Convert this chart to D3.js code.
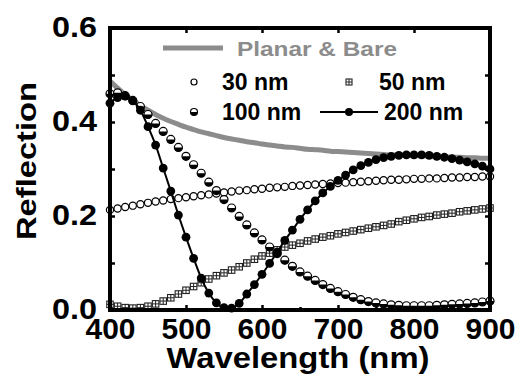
<!DOCTYPE html>
<html>
<head>
<meta charset="utf-8">
<script src="https://cdn.jsdelivr.net/npm/d3@7"></script>
<style>
  body { margin: 0; background: #fff; }
  text { font-family: "Liberation Sans", Arial, sans-serif; font-weight: bold; }
</style>
</head>
<body>
<svg id="chart" width="526" height="387"></svg>
<script>
// wavelength grid (nm)
const wavelength = [400,410,420,430,440,450,460,470,480,490,500,510,520,530,540,550,560,570,580,590,600,
  610,620,630,640,650,660,670,680,690,700,710,720,730,740,750,760,770,780,790,800,
  810,820,830,840,850,860,870,880,890,900];

const planarBare = [0.487,0.472,0.458,0.446,0.435,0.425,0.416,0.408,0.401,0.395,0.389,0.384,0.379,0.375,0.371,0.367,0.364,0.361,0.358,0.356,0.353,
  0.351,0.349,0.347,0.346,0.344,0.342,0.341,0.340,0.338,0.337,0.336,0.335,0.334,0.333,0.332,0.331,0.330,0.330,0.329,0.328,
  0.328,0.327,0.326,0.326,0.325,0.325,0.324,0.324,0.323,0.323];

const nm30 = [0.213,0.216,0.219,0.222,0.225,0.228,0.231,0.233,0.236,0.238,0.240,0.242,0.244,0.246,0.248,0.250,0.252,0.254,0.255,0.257,0.258,
  0.260,0.261,0.262,0.264,0.265,0.266,0.267,0.268,0.269,0.270,0.271,0.272,0.273,0.274,0.275,0.276,0.277,0.277,0.278,0.279,
  0.279,0.280,0.280,0.281,0.282,0.282,0.283,0.283,0.284,0.284];

const nm50 = [0.012,0.008,0.005,0.004,0.005,0.008,0.013,0.019,0.026,0.034,0.042,0.050,0.058,0.066,0.073,0.079,0.085,0.092,0.100,0.108,0.115,
  0.121,0.128,0.134,0.138,0.142,0.147,0.151,0.155,0.158,0.162,0.165,0.168,0.171,0.174,0.177,0.180,0.183,0.188,0.191,0.194,
  0.197,0.199,0.202,0.204,0.206,0.209,0.211,0.213,0.215,0.217];

const nm100 = [0.460,0.462,0.456,0.446,0.433,0.416,0.397,0.380,0.363,0.346,0.327,0.309,0.291,0.272,0.254,0.235,0.217,0.199,0.181,0.164,0.149,
  0.134,0.120,0.106,0.093,0.081,0.072,0.063,0.054,0.046,0.039,0.033,0.027,0.022,0.018,0.015,0.013,0.011,0.010,0.009,0.009,
  0.009,0.009,0.010,0.011,0.012,0.013,0.014,0.015,0.017,0.019];

const nm200 = [0.440,0.452,0.455,0.445,0.425,0.390,0.351,0.302,0.253,0.202,0.155,0.110,0.068,0.036,0.015,0.005,0.004,0.014,0.034,0.054,0.076,
  0.099,0.123,0.148,0.170,0.193,0.213,0.232,0.249,0.263,0.276,0.287,0.298,0.307,0.314,0.320,0.324,0.327,0.329,0.330,0.330,
  0.330,0.329,0.327,0.325,0.322,0.319,0.315,0.311,0.306,0.300];

const xTicks = [400, 500, 600, 700, 800, 900];
const xMinor = [450, 550, 650, 750, 850];
const yTicks = [0, 0.1, 0.2, 0.3, 0.4, 0.5, 0.6];
const yLabels = [0, 0.2, 0.4, 0.6];

const svg = d3.select("#chart");
const plotLeft = 110, plotRight = 490, plotTop = 28, plotBottom = 310;

const x = d3.scaleLinear().domain([400, 900]).range([plotLeft, plotRight]);
const y = d3.scaleLinear().domain([0, 0.6]).range([plotBottom, plotTop]);

// axes (ticks point inward)
const gx = svg.append("g")
  .attr("transform", "translate(0," + plotBottom + ")")
  .call(d3.axisBottom(x).tickValues(xTicks).tickSizeInner(-5).tickSizeOuter(0).tickPadding(8).tickFormat(d3.format("d")));
gx.selectAll(".tick text").attr("font-size", 29).attr("textLength", 50).attr("lengthAdjust", "spacingAndGlyphs");

svg.append("g")
  .attr("transform", "translate(0," + plotBottom + ")")
  .call(d3.axisBottom(x).tickValues(xMinor).tickSizeInner(-3).tickSizeOuter(0).tickFormat(""));

svg.append("g")
  .attr("transform", "translate(0," + plotTop + ")")
  .call(d3.axisTop(x).tickValues(xTicks).tickSizeInner(-5).tickSizeOuter(0).tickFormat(""));

const gy = svg.append("g")
  .attr("transform", "translate(" + plotLeft + ",0)")
  .call(d3.axisLeft(y).tickValues(yTicks).tickSizeInner(-5).tickSizeOuter(0).tickPadding(13)
    .tickFormat(d => yLabels.some(v => Math.abs(v - d) < 1e-9) ? d3.format(".1f")(d) : ""));
gy.selectAll(".tick text").attr("font-size", 29).attr("textLength", 45).attr("lengthAdjust", "spacingAndGlyphs").attr("dy", "0.28em");

svg.append("g")
  .attr("transform", "translate(" + plotRight + ",0)")
  .call(d3.axisRight(y).tickValues(yTicks).tickSizeInner(-5).tickSizeOuter(0).tickFormat(""));

svg.selectAll(".domain").remove();
svg.selectAll(".tick line").attr("stroke", "#000").attr("stroke-width", 2.5);
svg.selectAll(".tick text").attr("fill", "#000");

// titles
svg.append("text")
  .attr("x", 298).attr("y", 368)
  .attr("text-anchor", "middle")
  .attr("font-size", 29)
  .attr("textLength", 263).attr("lengthAdjust", "spacingAndGlyphs")
  .text("Wavelength (nm)");

svg.append("text")
  .attr("transform", "translate(36,161) rotate(-90)")
  .attr("text-anchor", "middle")
  .attr("font-size", 27)
  .attr("textLength", 158).attr("lengthAdjust", "spacingAndGlyphs")
  .text("Reflection");

// marker helpers
function openCircle(g, cx, cy, r) {
  g.append("circle").attr("cx", cx).attr("cy", cy).attr("r", r)
    .attr("fill", "#fff").attr("stroke", "#000").attr("stroke-width", 1.2);
}
function crossSquare(g, cx, cy, s) {
  const h = s / 2;
  g.append("rect").attr("x", cx - h).attr("y", cy - h).attr("width", s).attr("height", s)
    .attr("fill", "#fff").attr("stroke", "#222").attr("stroke-width", 1.1);
  g.append("path").attr("d", `M${cx - h},${cy}H${cx + h}M${cx},${cy - h}V${cy + h}`)
    .attr("stroke", "#222").attr("stroke-width", 1);
}
function halfCircle(g, cx, cy, r) {
  g.append("circle").attr("cx", cx).attr("cy", cy).attr("r", r)
    .attr("fill", "#fff").attr("stroke", "#000").attr("stroke-width", 1.2);
  g.append("path").attr("d", `M${cx - r},${cy}A${r},${r} 0 0 0 ${cx + r},${cy}Z`).attr("fill", "#000");
}
function filledCircle(g, cx, cy, r) {
  g.append("circle").attr("cx", cx).attr("cy", cy).attr("r", r).attr("fill", "#000");
}

// planar & bare (grey line)
const line = d3.line().x((d, i) => x(wavelength[i])).y(d => y(d)).curve(d3.curveMonotoneX);
svg.append("path").datum(planarBare)
  .attr("d", line).attr("fill", "none").attr("stroke", "#8c8c8c").attr("stroke-width", 5);

const g30 = svg.append("g");
nm30.forEach((v, i) => openCircle(g30, x(wavelength[i]), y(v), 3.6));

const g50 = svg.append("g");
nm50.forEach((v, i) => crossSquare(g50, x(wavelength[i]), y(v), 6.5));

const g100 = svg.append("g");
nm100.forEach((v, i) => halfCircle(g100, x(wavelength[i]), y(v), 4));

const g200 = svg.append("g");
g200.append("path").datum(nm200)
  .attr("d", line).attr("fill", "none").attr("stroke", "#000").attr("stroke-width", 2);
nm200.forEach((v, i) => filledCircle(g200, x(wavelength[i]), y(v), 4.4));

// frame
svg.append("rect")
  .attr("x", plotLeft).attr("y", plotTop).attr("width", plotRight - plotLeft).attr("height", plotBottom - plotTop)
  .attr("fill", "none").attr("stroke", "#000").attr("stroke-width", 4);

// legend
const lg = svg.append("g");
lg.append("line").attr("x1", 163).attr("x2", 223).attr("y1", 48).attr("y2", 48)
  .attr("stroke", "#8c8c8c").attr("stroke-width", 5);
lg.append("text").attr("x", 237).attr("y", 56).attr("font-size", 20).attr("fill", "#8c8c8c")
  .attr("textLength", 160).attr("lengthAdjust", "spacingAndGlyphs").text("Planar & Bare");

openCircle(lg, 194, 82, 3);
lg.append("text").attr("x", 222).attr("y", 90).attr("font-size", 23).text("30 nm");

crossSquare(lg, 349, 82, 6);
lg.append("text").attr("x", 379).attr("y", 90).attr("font-size", 23).text("50 nm");

halfCircle(lg, 194, 112, 3.5);
lg.append("text").attr("x", 222).attr("y", 120).attr("font-size", 23).text("100 nm");

lg.append("line").attr("x1", 320).attr("x2", 378).attr("y1", 112).attr("y2", 112)
  .attr("stroke", "#000").attr("stroke-width", 2);
filledCircle(lg, 349, 112, 4);
lg.append("text").attr("x", 384).attr("y", 120).attr("font-size", 23).text("200 nm");
</script>
</body>
</html>
